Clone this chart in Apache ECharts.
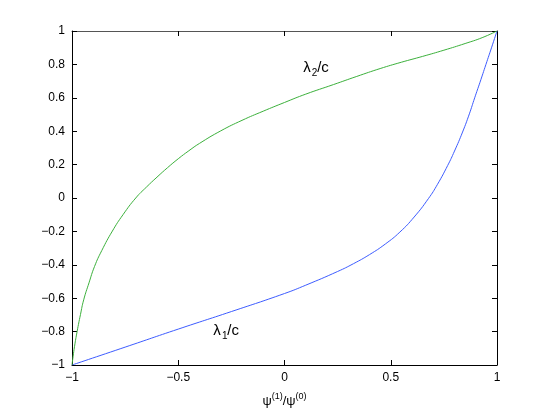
<!DOCTYPE html>
<html>
<head>
<meta charset="utf-8">
<script src="https://cdn.jsdelivr.net/npm/echarts@6/dist/echarts.min.js"></script>
<style>
  html, body { margin: 0; padding: 0; background: #fff; }
  #chart { width: 548px; height: 413px; }
</style>
</head>
<body>
<div id="chart"></div>
<script>
// lambda_1 / c  (blue)
const lambda1X = [-1, -0.75, -0.5, -0.25, 0, 0.1, 0.25, 0.325, 0.4, 0.475, 0.543, 0.61, 0.677, 0.72, 0.768, 0.8, 0.838, 0.87, 0.895, 0.92, 0.948, 0.975, 1]
const lambda1Y = [-1, -0.893, -0.785, -0.68, -0.572, -0.522, -0.44, -0.393, -0.339, -0.275, -0.204, -0.114, -0.004, 0.082, 0.195, 0.281, 0.395, 0.504, 0.6, 0.693, 0.8, 0.903, 1]
// lambda_2 / c  (green)
const lambda2X = [-1, -0.995, -0.988, -0.976, -0.96, -0.945, -0.92, -0.894, -0.86, -0.81, -0.76, -0.7, -0.65, -0.6, -0.55, -0.5, -0.45, -0.4, -0.3, -0.2, -0.1, 0, 0.1, 0.23, 0.34, 0.45, 0.55, 0.65, 0.75, 0.85, 0.93, 1]
const lambda2Y = [-1, -0.951, -0.888, -0.8, -0.697, -0.61, -0.508, -0.41, -0.315, -0.198, -0.1, 0, 0.065, 0.125, 0.182, 0.235, 0.283, 0.327, 0.402, 0.465, 0.52, 0.572, 0.622, 0.679, 0.728, 0.775, 0.813, 0.848, 0.885, 0.925, 0.96, 1]

const xTicks = [-1, -0.5, 0, 0.5, 1]
const yTicks = [-1, -0.8, -0.6, -0.4, -0.2, 0, 0.2, 0.4, 0.6, 0.8, 1]

const FONT = 'Liberation Sans'
const pairs = (xs, ys) => xs.map((x, i) => [x, ys[i]])
const fmt = v => (v < 0 ? '\u2212' + String(-v) : String(v))

const chart = echarts.init(document.getElementById('chart'))

const tickStyle = { show: true, inside: true, length: 5, lineStyle: { color: '#000' } }
const lineStyle = { show: true, onZero: false, lineStyle: { color: '#000', width: 1 } }

chart.setOption({
  animation: false,
  grid: { left: 72, right: 51, top: 31, bottom: 47 },
  xAxis: [
    {
      type: 'value', min: -1, max: 1, interval: 0.5,
      axisLine: lineStyle, axisTick: tickStyle, splitLine: { show: false },
      axisLabel: {
        color: '#000', fontFamily: FONT, fontSize: 12, margin: 7,
        formatter: v => (xTicks.includes(v) ? fmt(v) : '')
      },
      name: '{a|ψ}{s|(1)}{a|/ψ}{s|(0)}',
      nameLocation: 'middle',
      nameGap: 27,
      nameTextStyle: {
        rich: {
          a: { fontFamily: FONT, fontSize: 13, color: '#000', verticalAlign: 'bottom', lineHeight: 16 },
          s: { fontFamily: FONT, fontSize: 9, color: '#000', verticalAlign: 'top', lineHeight: 16 }
        }
      }
    },
    {
      type: 'value', min: -1, max: 1, interval: 0.5, position: 'top',
      axisLine: { show: true, onZero: false, lineStyle: { color: '#555', width: 1 } },
      axisTick: tickStyle, axisLabel: { show: false }, splitLine: { show: false }
    }
  ],
  yAxis: [
    {
      type: 'value', min: -1, max: 1, interval: 0.2,
      axisLine: lineStyle, axisTick: tickStyle, splitLine: { show: false },
      axisLabel: {
        color: '#000', fontFamily: FONT, fontSize: 12, margin: 7,
        formatter: v => fmt(Math.round(v * 10) / 10)
      }
    },
    {
      type: 'value', min: -1, max: 1, interval: 0.2, position: 'right',
      axisLine: lineStyle, axisTick: tickStyle, axisLabel: { show: false }, splitLine: { show: false }
    }
  ],
  series: [
    {
      name: 'lambda1', type: 'line', data: pairs(lambda1X, lambda1Y),
      smooth: 0.5, showSymbol: false,
      lineStyle: { color: '#3d5cff', width: 1 }
    },
    {
      name: 'lambda2', type: 'line', data: pairs(lambda2X, lambda2Y),
      smooth: 0.5, showSymbol: false,
      lineStyle: { color: '#3cb03c', width: 1 }
    }
  ]
})

// curve labels: lambda, subscript, "/c" placed from a data-coordinate anchor
const label = (anchor, sub) => {
  const p = chart.convertToPixel({ gridIndex: 0 }, anchor)
  const base = { fontFamily: FONT, fill: '#000', verticalAlign: 'top', align: 'left' }
  return {
    type: 'group', x: p[0], y: p[1],
    children: [
      { type: 'text', x: 0, y: 0, style: { ...base, text: 'λ', fontSize: 15 } },
      { type: 'text', x: 8.6, y: 8, style: { ...base, text: sub, fontSize: 10 } },
      { type: 'text', x: 14, y: 0, style: { ...base, text: '/c', fontSize: 15 } }
    ]
  }
}
chart.setOption({
  graphic: [label([0.088, 0.826], '2'), label([-0.335, -0.75], '1')]
})
</script>
</body>
</html>
